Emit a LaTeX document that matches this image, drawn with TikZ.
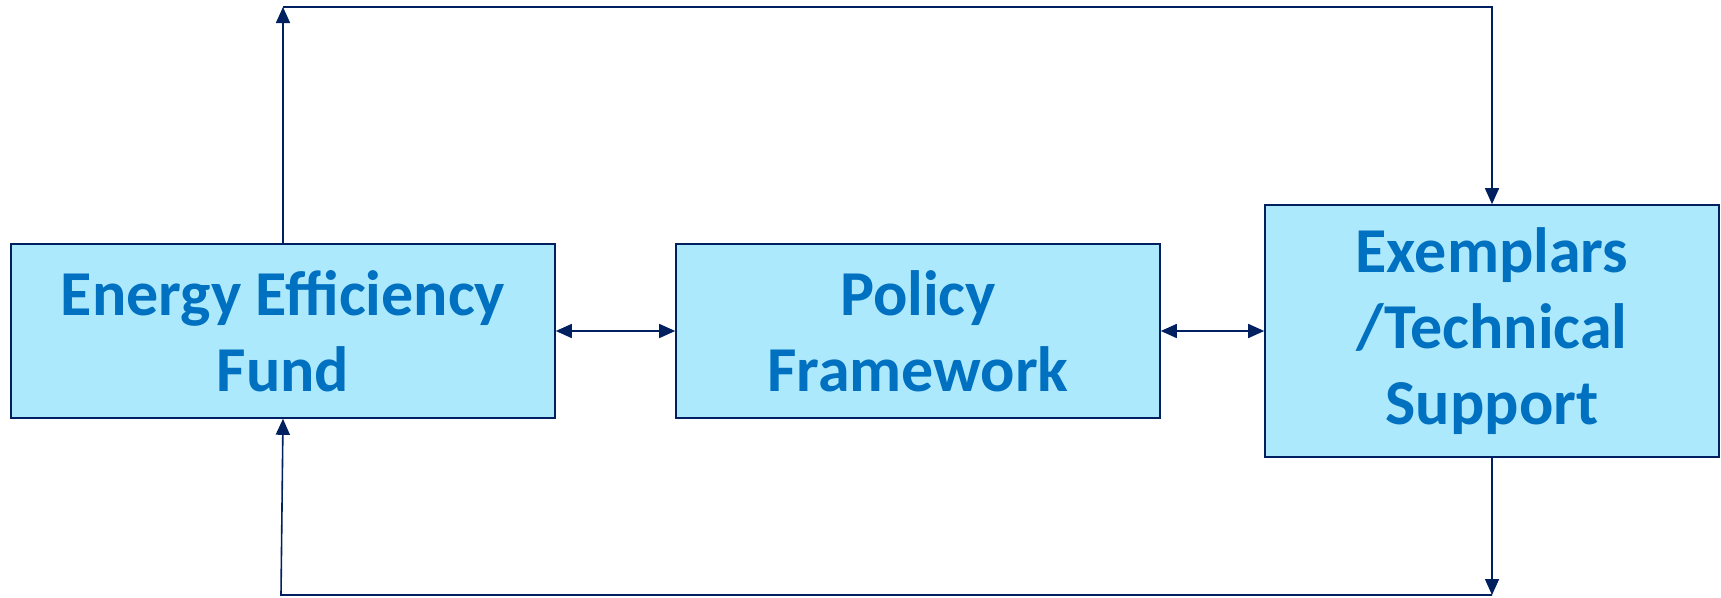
\documentclass[tikz,border=0pt]{standalone}
\usepackage{fontspec}
\setmainfont{Carlito}
\usetikzlibrary{arrows.meta}
\definecolor{boxfill}{HTML}{ADE9FC}
\definecolor{boxtext}{HTML}{0070C0}
\definecolor{navy}{HTML}{002060}
\tikzset{
  block/.style={draw=navy, line width=1.6pt, fill=boxfill, text=boxtext,
    font=\bfseries\fontsize{64}{76}\selectfont, align=center, inner sep=0pt},
  link/.style={draw=navy, line width=1.6pt},
  tip/.style={-{Triangle[width=14pt,length=16pt]}},
  twotip/.style={{Triangle[width=14pt,length=16pt]}-{Triangle[width=14pt,length=16pt]}}
}
\begin{document}
\begin{tikzpicture}[x=1pt,y=-1pt]
  \useasboundingbox (0,0) rectangle (1721,597);
  \node[block, minimum width=544pt, minimum height=174pt] (fund) at (283,331) {Energy Efficiency\\Fund};
  \node[block, minimum width=484pt, minimum height=174pt] (policy) at (918,331) {Policy\\Framework};
  \node[block, minimum width=454pt, minimum height=252pt] (exemplars) at (1492,331) {Exemplars\\/Technical\\Support};

  \coordinate (topL) at (283,7);
  \coordinate (topR) at (1492,7);
  \coordinate (botR) at (1492,595);
  \coordinate (botL) at (281,595);

  % feedback loop over the top
  \draw[link, tip] (fund.north) -- (topL);
  \draw[link, tip] (topL) -- (topR) -- (exemplars.north);
  % feedback loop along the bottom
  \draw[link, tip] (exemplars.south) -- (botR);
  \draw[link, tip] (botR) -- (botL) -- (fund.south);

  % links between neighbouring blocks
  \draw[link, twotip] (fund.east) -- (policy.west);
  \draw[link, twotip] (policy.east) -- (exemplars.west);
\end{tikzpicture}
\end{document}
